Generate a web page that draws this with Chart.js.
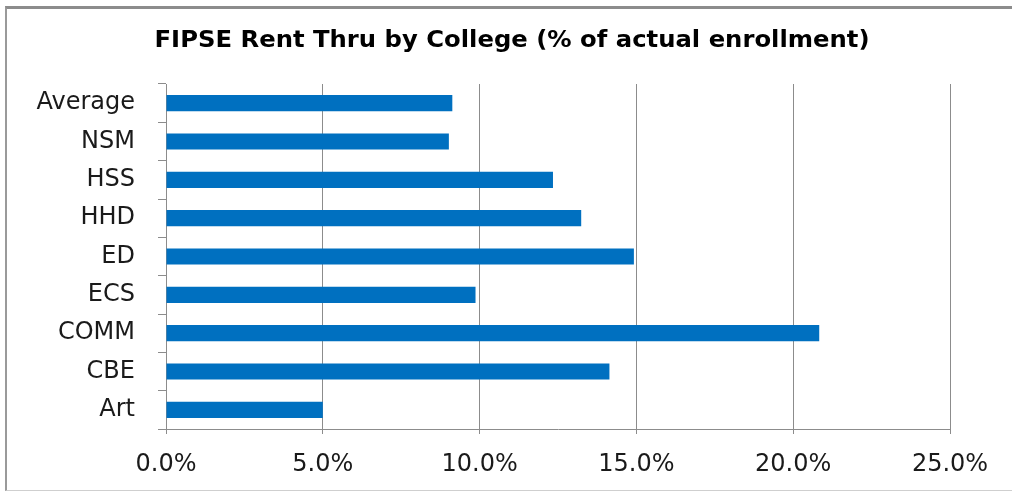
<!DOCTYPE html>
<html lang="en">
<head>
    <meta charset="UTF-8">
    <script src="https://cdn.jsdelivr.net/npm/chart.js"></script>
    <title>FIPSE Rent Thru</title>
    <style>
        html, body { margin: 0; padding: 0; background: #fff; overflow: hidden; }
        .moldura { position: absolute; left: 5px; top: 6px; width: 1100px; height: 481px;
                   border-left: 2px solid #9a9a9a; border-top: 3px solid #8c8c8c; border-bottom: 1px solid #cfcfcf; }
        .caixa { position: absolute; left: 0; top: 0; width: 1012px; height: 492px; }
    </style>
</head>
<body>
    <div class="moldura"></div>
    <div class="caixa">
        <canvas id="grafico" width="1012" height="492"></canvas>
    </div>
<script>
// dados
const titulo = 'FIPSE Rent Thru by College (% of actual enrollment)';
const faculdades = ['Average', 'NSM', 'HSS', 'HHD', 'ED', 'ECS', 'COMM', 'CBE', 'Art'];
const percentuais = [9.13, 9.02, 12.34, 13.24, 14.92, 9.87, 20.83, 14.14, 5.0];
const ticksX = [0, 5, 10, 15, 20, 25];

const cinza = '#8c8c8c';

// titulo centrado na largura toda da figura, um pouco esticado na horizontal como no original
const tituloPlugin = {
    id: 'tituloPlugin',
    afterDraw(chart) {
        const ctx = chart.ctx;
        ctx.save();
        ctx.font = 'bold 23px "DejaVu Sans"';
        ctx.fillStyle = '#000';
        ctx.textAlign = 'center';
        ctx.textBaseline = 'middle';
        const larg = ctx.measureText(titulo).width;
        const esc = Math.max(1, 715 / larg);
        ctx.translate(512, 41);
        ctx.scale(esc, 1);
        ctx.fillText(titulo, 0, 0);
        ctx.restore();
    }
};

new Chart(document.getElementById('grafico'), {
    type: 'bar',
    data: {
        labels: faculdades,
        datasets: [{
            label: 'Rent Thru',
            data: percentuais,
            backgroundColor: '#0070C0',
            borderWidth: 0,
            barPercentage: 0.42,
            categoryPercentage: 1
        }]
    },
    plugins: [tituloPlugin],
    options: {
        indexAxis: 'y',
        responsive: false,
        animation: false,
        devicePixelRatio: 1,
        layout: { padding: { left: 0, right: 62, top: 84, bottom: 0 } },
        plugins: {
            legend: { display: false },
            tooltip: { enabled: false },
            title: { display: false }
        },
        scales: {
            x: {
                min: ticksX[0],
                max: ticksX[ticksX.length - 1],
                afterBuildTicks: s => { s.ticks = ticksX.map(v => ({ value: v })); },
                ticks: {
                    color: '#1a1a1a',
                    font: { family: 'DejaVu Sans', size: 24 },
                    padding: 16,
                    maxRotation: 0,
                    callback: v => v.toFixed(1) + '%'
                },
                grid: { color: cinza, lineWidth: 1, tickLength: 5 },
                border: { color: cinza, width: 1 },
                afterFit: s => { s.height = 63; }
            },
            y: {
                ticks: {
                    color: '#1a1a1a',
                    font: { family: 'DejaVu Sans', size: 24 },
                    padding: 23
                },
                grid: { offset: true, drawOnChartArea: false, color: cinza, tickLength: 8 },
                border: { color: cinza, width: 1 },
                afterFit: s => { s.width = 166; }
            }
        }
    }
});
</script>
</body>
</html>
